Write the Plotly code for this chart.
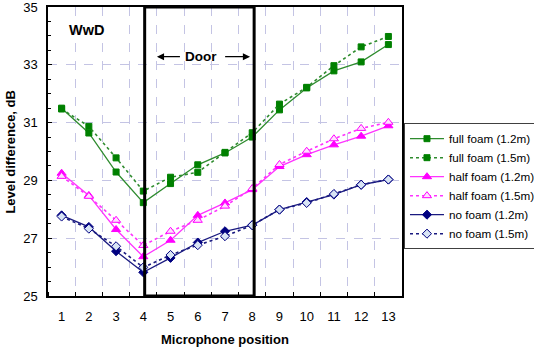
import plotly.graph_objects as go

positions = list(range(1, 14))
full_12 = [31.50, 30.64, 29.29, 28.23, 28.89, 29.54, 29.95, 30.50, 31.44, 32.20, 32.79, 33.10, 33.70]
full_15 = [31.47, 30.87, 29.78, 28.63, 29.11, 29.28, 29.97, 30.65, 31.64, 32.22, 32.97, 33.62, 33.98]
half_12 = [29.25, 28.48, 27.30, 26.36, 26.93, 27.79, 28.22, 28.68, 29.48, 29.89, 30.23, 30.53, 30.89]
half_15 = [29.14, 28.45, 27.62, 26.75, 27.24, 27.62, 28.11, 28.72, 29.55, 30.01, 30.44, 30.80, 31.01]
no_12 = [27.79, 27.39, 26.55, 25.82, 26.32, 26.85, 27.24, 27.45, 27.99, 28.25, 28.51, 28.85, 29.03]
no_15 = [27.75, 27.33, 26.72, 25.99, 26.42, 26.76, 27.07, 27.45, 27.99, 28.22, 28.53, 28.85, 29.03]

series_names = ["full foam (1.2m)", "full foam (1.5m)", "half foam (1.2m)",
                "half foam (1.5m)", "no foam (1.2m)", "no foam (1.5m)"]

door_x0, door_x1 = 4.05, 8.07
y_min, y_max = 25, 35

FONT = "Arial, Liberation Sans, sans-serif"

styles = [
    dict(y=full_12, color="#2e8b2e", mcolor="#008000", dash="solid", symbol="square", size=6, mline="#008000"),
    dict(y=full_15, color="#2e8b2e", mcolor="#008000", dash="dot", symbol="square", size=6, mline="#008000"),
    dict(y=half_12, color="#ff33ff", mcolor="#ff00ff", dash="solid", symbol="triangle-up", size=8, mline="#ff00ff"),
    dict(y=half_15, color="#ff33ff", mcolor="#ffe0ff", dash="dot", symbol="triangle-up", size=8, mline="#ff00ff"),
    dict(y=no_12, color="#1a1a80", mcolor="#000080", dash="solid", symbol="diamond", size=7, mline="#000080"),
    dict(y=no_15, color="#1a1a80", mcolor="#d8e4f4", dash="dot", symbol="diamond", size=7, mline="#000080"),
]

fig = go.Figure()
for name, s in zip(series_names, styles):
    fig.add_trace(go.Scatter(
        x=positions, y=s["y"], name=name, mode="lines+markers",
        line=dict(color=s["color"], width=1.3 if s["dash"] == "solid" else 1.6, dash=s["dash"]),
        marker=dict(symbol=s["symbol"], size=s["size"], color=s["mcolor"],
                    line=dict(color=s["mline"], width=1)),
    ))

# Door box
fig.add_shape(type="rect", xref="x", yref="y", x0=door_x0, x1=door_x1, y0=y_min, y1=y_max,
              line=dict(color="black", width=3), layer="above")

# Door label + arrows
fig.add_annotation(x=6.13, y=33.28, text="<b>Door</b>", showarrow=False,
                   font=dict(family=FONT, size=13.5, color="black"))
fig.add_annotation(x=4.5, y=33.28, ax=5.4, ay=33.28, axref="x", ayref="y", xref="x", yref="y",
                   text="", showarrow=True, arrowhead=2, arrowsize=1.1, arrowwidth=1.3, arrowcolor="black")
fig.add_annotation(x=7.92, y=33.28, ax=6.95, ay=33.28, axref="x", ayref="y", xref="x", yref="y",
                   text="", showarrow=True, arrowhead=2, arrowsize=1.1, arrowwidth=1.3, arrowcolor="black")

# WwD label
fig.add_annotation(x=1.2, y=34.2, text="<b>WwD</b>", showarrow=False, xanchor="left",
                   font=dict(family=FONT, size=14.5, color="black"))

# Axis titles
fig.add_annotation(xref="paper", yref="paper", x=-0.107, y=0.5, xanchor="center", yanchor="middle",
                   text="<b>Level difference, dB</b>",
                   textangle=-90, showarrow=False, font=dict(family=FONT, size=13, color="black"))
fig.add_annotation(xref="paper", yref="paper", x=0.5, y=-0.151, xanchor="center", yanchor="middle",
                   text="<b>Microphone position</b>",
                   showarrow=False, font=dict(family=FONT, size=13, color="black"))

grid_color = "#c4c4e4"

fig.update_xaxes(
    range=[0.5, 13.5], tickvals=positions, ticktext=[str(p) for p in positions],
    ticks="", showgrid=False, zeroline=False,
    showline=True, mirror=True, linecolor="black", linewidth=1.5,
    tickfont=dict(family=FONT, size=13, color="black"), ticklabelstandoff=8,
    ticklabeloverflow="allow",
    minor=dict(tick0=0.5, dtick=1, ticks="inside", ticklen=4, tickcolor="black",
               showgrid=True, gridcolor=grid_color, griddash="dash", gridwidth=1),
)
fig.update_yaxes(
    range=[y_min, y_max], tick0=25, dtick=2, ticks="inside", ticklen=4, tickcolor="black",
    showgrid=True, gridcolor=grid_color, griddash="dash", gridwidth=1, zeroline=False,
    showline=True, mirror=True, linecolor="black", linewidth=1.5,
    tickfont=dict(family=FONT, size=13, color="black"), ticklabelstandoff=6,
    ticklabeloverflow="allow",
    minor=dict(dtick=0.5, ticks="inside", ticklen=3, tickcolor="black", showgrid=False),
)

fig.update_layout(
    width=534, height=348,
    margin=dict(l=48, r=132, t=7, b=52, autoexpand=False),
    plot_bgcolor="white", paper_bgcolor="white",
    font=dict(family=FONT, size=11, color="black"),
    showlegend=True,
    legend=dict(x=1.0056, y=0.598, xanchor="left", yanchor="top",
                bordercolor="#404040", borderwidth=1, bgcolor="white",
                font=dict(family=FONT, size=11.7, color="black"),
                tracegroupgap=0, itemwidth=34),
)

fig.write_html("out.html")
